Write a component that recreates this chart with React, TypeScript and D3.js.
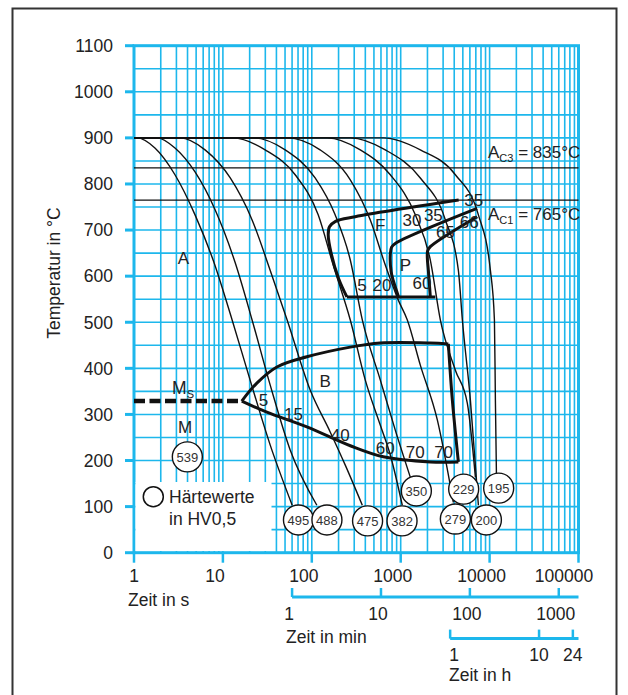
import React from 'react';
import * as d3 from 'd3';

const W = 628;
const H = 695;

// ---------- axes data ----------
const yTicks = [0, 100, 200, 300, 400, 500, 600, 700, 800, 900, 1000, 1100];
const xTicks = [1, 10, 100, 1000, 10000, 100000];
const xTickLabels = ['1', '10', '100', '1000', '10000', '100000'];
const minTicks = [1, 10, 100, 1000];
const hourTicks = [1, 10, 24];

// ---------- characteristic temperatures ----------
const acLines = [
  { sub: 'C3', T: 835, above: true },
  { sub: 'C1', T: 765, above: false },
];
const msTemp = 329;
const msEnd = 16.3;

// ---------- cooling curves (t in s, T in °C) ----------
type P = [number, number];
const curve495: P[] = [[1, 900], [1.08, 900], [1.72, 878], [2.89, 820], [4.86, 733], [7.76, 635], [12.7, 505], [20.2, 375], [34, 234], [60.2, 103]];
const curve488: P[] = [[1, 900], [1.82, 900], [2.89, 878], [4.86, 826], [8.17, 744], [13.7, 630], [21.3, 505], [34, 364], [57.1, 223], [114, 103]];
const curve475: P[] = [[1, 900], [3.3, 900], [6.3, 874], [12.1, 813], [21.3, 722], [34, 613], [52.8, 505], [95.9, 353], [161, 262], [238, 190], [370, 103]];
const curve382: P[] = [[1, 900], [13, 900], [29.9, 874], [65, 820], [118, 733], [174, 624], [271, 505], [399, 375], [589, 277], [764, 212], [1042, 103]];
const curve350: P[] = [[1, 900], [21.9, 900], [50.2, 874], [109, 813], [183, 733], [271, 635], [370, 505], [589, 375], [869, 266], [1282, 164]];
const curve279: P[] = [[1, 900], [52.8, 900], [124, 874], [271, 809], [455, 722], [671, 624], [940, 548], [1187, 505], [1662, 407], [2582, 288], [3910, 109]];
const curve229: P[] = [[1, 900], [149, 900], [351, 874], [764, 820], [1460, 733], [2154, 635], [2792, 505], [4120, 396], [5620, 324], [6920, 164]];
const curve200: P[] = [[1, 900], [271, 900], [671, 874], [1662, 813], [3180, 722], [4450, 613], [4940, 505], [6080, 331], [7480, 103]];
const curve195: P[] = [[1, 900], [637, 900], [1662, 874], [4120, 820], [7480, 733], [10200, 613], [11330, 505], [11620, 331], [11930, 173]];
const coolingCurves = [curve495, curve488, curve475, curve382, curve350, curve279, curve229, curve200, curve195];

// ---------- transformation regions ----------
const ferriteStart: P[] = [[4487, 765], [308, 729], [185, 719], [158, 707], [153, 690], [165, 650], [200, 595], [248, 555]];
const ferriteBottom: P[] = [[248, 555], [2453, 555]];
const pearliteStart: P[] = [[7230, 747], [869, 671], [790, 663], [764, 648], [780, 610], [826, 590], [946, 555]];
const pearliteEnd: P[] = [[7230, 729], [2154, 664], [2010, 655], [1993, 640], [2046, 613], [2154, 555]];
const bainiteUpper: P[] = [[16.3, 329], [24.1, 368], [40.5, 403], [88, 425], [271, 446], [589, 455], [2154, 455], [3436, 453]];
const bainiteRight: P[] = [[3436, 453], [3811, 331], [4454, 197]];
const bainiteLower: P[] = [[4454, 197], [2154, 197], [637, 208], [271, 232], [88, 273], [31.2, 305], [16.3, 329]];
const regionLines = [ferriteStart, ferriteBottom, pearliteStart, pearliteEnd, bainiteUpper, bainiteRight, bainiteLower];

// ---------- hardness values ----------
const hardness = [
  { t: 70.8, T: 71, v: '495' },
  { t: 148, T: 71, v: '488' },
  { t: 424, T: 69, v: '475' },
  { t: 1035, T: 69, v: '382' },
  { t: 1500, T: 134, v: '350' },
  { t: 4120, T: 73, v: '279' },
  { t: 5110, T: 138, v: '229' },
  { t: 9200, T: 71, v: '200' },
  { t: 12650, T: 140, v: '195' },
  { t: 3.98, T: 208, v: '539' },
];

// ---------- annotations ----------
const annotations = [
  { t: 6620, T: 765, s: '35' },
  { t: 1340, T: 722, s: '30' },
  { t: 2330, T: 733, s: '35' },
  { t: 5900, T: 718, s: '66' },
  { t: 3180, T: 697, s: '65' },
  { t: 589, T: 711, s: 'F' },
  { t: 1127, T: 624, s: 'P' },
  { t: 367, T: 581, s: '5' },
  { t: 615, T: 581, s: '20' },
  { t: 1738, T: 585, s: '60' },
  { t: 141, T: 373, s: 'B' },
  { t: 28.6, T: 331, s: '5' },
  { t: 62.2, T: 302, s: '15' },
  { t: 209, T: 255, s: '40' },
  { t: 671, T: 227, s: '60' },
  { t: 1460, T: 219, s: '70' },
  { t: 3040, T: 219, s: '70' },
  { t: 3.59, T: 639, s: 'A' },
  { t: 3.75, T: 273, s: 'M' },
];
const msLabel = { t: 3.56, T: 357 };

const GRID = '#1db7ec';
const FONT = '"Liberation Sans", Arial, sans-serif';
const TXT = '#222';

export default function App() {
  const x = d3.scaleLog().domain([1, 100000]).range([134, 578.5]);
  const y = d3.scaleLinear().domain([0, 1100]).range([552.7, 45.7]);
  const [x0, x1] = x.range();
  const [yb, yt] = y.range();

  const gridX: number[] = [];
  for (let d = 0; d < 5; d++) for (let k = 1; k <= 9; k++) gridX.push(k * Math.pow(10, d));
  gridX.push(100000);
  const gridY = d3.range(0, 1101, 50);

  const coolLine = d3.line<P>().x(d => x(d[0])).y(d => y(d[1])).curve(d3.curveMonotoneX);
  const regLine = d3.line<P>().x(d => x(d[0])).y(d => y(d[1])).curve(d3.curveCatmullRom.alpha(0.5));

  const minY = 597;
  const hY = 638.6;
  const xm = (m: number) => x(m * 60);
  const xh = (h: number) => x(h * 3600);

  return (
    <svg width={W} height={H} style={{ position: 'absolute', left: 0, top: 0, background: '#fff' }} fontFamily={FONT}>
      <rect x={0} y={0} width={W} height={H} fill="#fff" />
      <rect x={12.5} y={8.5} width={604} height={720} fill="none" stroke="#333" strokeWidth={2} />

      {/* grid */}
      {gridY.map(v => (
        <line key={'gy' + v} x1={x0} x2={x1} y1={y(v)} y2={y(v)} stroke={GRID} strokeWidth={1.6} />
      ))}
      {gridX.map(v => (
        <line key={'gx' + v} x1={x(v)} x2={x(v)} y1={yb} y2={yt} stroke={GRID} strokeWidth={1.6} />
      ))}
      <rect x={x0} y={yt} width={x1 - x0} height={yb - yt} fill="none" stroke={GRID} strokeWidth={3} />

      {/* y ticks */}
      {yTicks.map(v => (
        <g key={'yt' + v}>
          <line x1={125} x2={x0} y1={y(v)} y2={y(v)} stroke={GRID} strokeWidth={3} />
          <text x={113} y={y(v)} dy="0.36em" textAnchor="end" fontSize={17.5} fill={TXT}>{v}</text>
        </g>
      ))}
      {/* x ticks */}
      {xTicks.map((v, i) => (
        <g key={'xt' + v}>
          <line x1={x(v)} x2={x(v)} y1={yb} y2={yb + 10} stroke={GRID} strokeWidth={2.5} />
          <text x={Math.min(x(v) - (i === 0 ? 0 : 8), 564)} y={581.6} textAnchor="middle" fontSize={17.5} fill={TXT}>{xTickLabels[i]}</text>
        </g>
      ))}
      <text x={128} y={606} fontSize={17.5} fill={TXT}>Zeit in s</text>

      {/* minutes axis */}
      <line x1={xm(1)} x2={x1} y1={minY} y2={minY} stroke={GRID} strokeWidth={3} />
      {minTicks.map(v => (
        <g key={'mt' + v}>
          <line x1={xm(v)} x2={xm(v)} y1={minY} y2={minY - 9} stroke={GRID} strokeWidth={2.5} />
          <text x={xm(v) - 3} y={619.7} textAnchor="middle" fontSize={17.5} fill={TXT}>{v}</text>
        </g>
      ))}
      <text x={286} y={643} fontSize={17.5} fill={TXT}>Zeit in min</text>

      {/* hours axis */}
      <line x1={xh(1)} x2={x1} y1={hY} y2={hY} stroke={GRID} strokeWidth={3} />
      {hourTicks.map(v => (
        <g key={'ht' + v}>
          <line x1={xh(v)} x2={xh(v)} y1={hY} y2={hY - 9} stroke={GRID} strokeWidth={2.5} />
          <text x={xh(v) + (v === 1 ? 4 : 0)} y={661} textAnchor="middle" fontSize={17.5} fill={TXT}>{v}</text>
        </g>
      ))}
      <text x={449} y={681} fontSize={17.5} fill={TXT}>Zeit in h</text>

      {/* y title */}
      <text transform="translate(60,273) rotate(-90)" textAnchor="middle" fontSize={17.5} fill={TXT}>Temperatur in °C</text>

      {/* Ac lines */}
      {acLines.map(a => (
        <g key={a.sub}>
          <line x1={x0} x2={x1} y1={y(a.T)} y2={y(a.T)} stroke="#111" strokeWidth={1.4} />
          <text x={488} y={a.above ? y(a.T) - 10 : y(a.T) + 20} fontSize={17} fill={TXT}>
            A<tspan fontSize={11} dy={4}>{a.sub}</tspan><tspan dy={-4}>{' = ' + a.T + '°C'}</tspan>
          </text>
        </g>
      ))}

      {/* cooling curves */}
      {coolingCurves.map((c, i) => (
        <path key={'cc' + i} d={coolLine(c) || ''} fill="none" stroke="#111" strokeWidth={1.4} />
      ))}

      {/* regions */}
      {regionLines.map((c, i) => (
        <path key={'rl' + i} d={regLine(c) || ''} fill="none" stroke="#111" strokeWidth={3} strokeLinejoin="round" />
      ))}

      {/* Ms line */}
      <line x1={x0} x2={x(msEnd)} y1={y(msTemp)} y2={y(msTemp)} stroke="#111" strokeWidth={4.5} strokeDasharray="11 4.5" />
      <text x={x(msLabel.t)} y={y(msLabel.T)} dy="0.36em" textAnchor="middle" fontSize={17.5} fill={TXT}>
        M<tspan fontSize={11} dy={4}>S</tspan>
      </text>

      {/* annotations */}
      {annotations.map((a, i) => (
        <text key={'an' + i} x={x(a.t)} y={y(a.T)} dy="0.36em" textAnchor="middle" fontSize={17} fill={TXT}>{a.s}</text>
      ))}

      {/* legend */}
      <rect x={135.5} y={482} width={136} height={69} fill="#fff" />
      <circle cx={153.3} cy={496.7} r={10} fill="#fff" stroke="#111" strokeWidth={1.5} />
      <text x={169} y={503} fontSize={17.5} fill={TXT}>Härtewerte</text>
      <text x={169} y={525} fontSize={17.5} fill={TXT}>in HV0,5</text>

      {/* hardness circles */}
      {hardness.map((h, i) => (
        <g key={'hv' + i}>
          <circle cx={x(h.t)} cy={y(h.T)} r={15} fill="#fff" stroke="#111" strokeWidth={1.4} />
          <text x={x(h.t)} y={y(h.T)} dy="0.36em" textAnchor="middle" fontSize={13} fill="#333">{h.v}</text>
        </g>
      ))}
    </svg>
  );
}
